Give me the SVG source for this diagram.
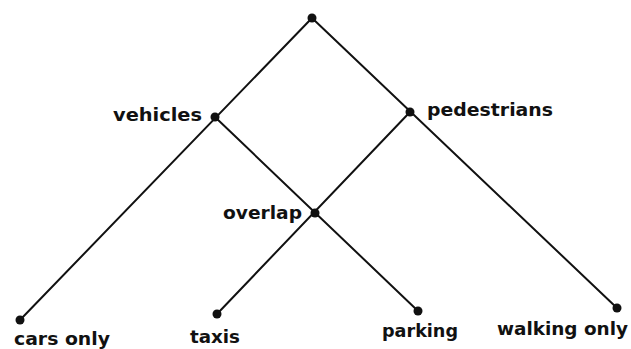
<svg xmlns="http://www.w3.org/2000/svg" width="631" height="349" viewBox="0 0 631 349">
<style>
.e{stroke:#111;stroke-width:2;fill:none;stroke-linecap:round}
.d{fill:#111}
.t{font-family:"DejaVu Sans","Liberation Sans",sans-serif;font-weight:bold;font-size:17px;fill:#111}
</style>
<rect width="631" height="349" fill="#fff"/>
<g id="connectors">
<line class="e" x1="312" y1="18" x2="20" y2="320"/>
<line class="e" x1="312" y1="18" x2="617" y2="308"/>
<line class="e" x1="215" y1="117" x2="418" y2="311"/>
<line class="e" x1="410" y1="112" x2="217" y2="314"/>
</g>
<g id="top"><circle class="d" cx="312" cy="18" r="4.5"/></g>
<g id="vehicles"><circle class="d" cx="215" cy="117" r="4.5"/><text class="t" x="113" y="121" textLength="89" lengthAdjust="spacingAndGlyphs">vehicles</text></g>
<g id="pedestrians"><circle class="d" cx="410" cy="112" r="4.5"/><text class="t" x="427" y="116" textLength="126" lengthAdjust="spacingAndGlyphs">pedestrians</text></g>
<g id="overlap"><circle class="d" cx="315" cy="213" r="4.5"/><text class="t" x="223" y="219" textLength="79" lengthAdjust="spacingAndGlyphs">overlap</text></g>
<g id="cars-only"><circle class="d" cx="20" cy="320" r="4.5"/><text class="t" x="14" y="345" textLength="96" lengthAdjust="spacingAndGlyphs">cars only</text></g>
<g id="taxis"><circle class="d" cx="217" cy="314" r="4.5"/><text class="t" x="190" y="343" textLength="50" lengthAdjust="spacingAndGlyphs">taxis</text></g>
<g id="parking"><circle class="d" cx="418" cy="311" r="4.5"/><text class="t" x="382" y="337" textLength="76" lengthAdjust="spacingAndGlyphs">parking</text></g>
<g id="walking-only"><circle class="d" cx="617" cy="308" r="4.5"/><text class="t" x="497" y="335" textLength="131" lengthAdjust="spacingAndGlyphs">walking only</text></g>
</svg>
